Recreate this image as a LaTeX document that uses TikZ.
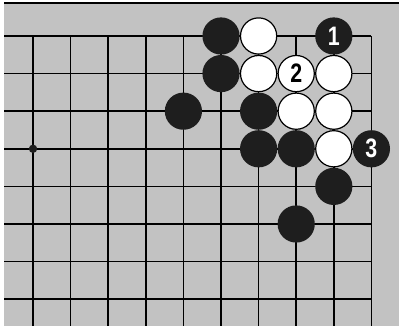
\documentclass[tikz,border=0pt]{standalone}
\usepackage{fontspec}
\setmainfont{Liberation Sans}
\usetikzlibrary{positioning}
\definecolor{boardgray}{RGB}{194,194,194}
\definecolor{stoneblack}{RGB}{30,30,30}
\newcommand{\movenum}[1]{\scalebox{0.8}[1]{#1}}

\begin{document}
\begin{tikzpicture}[x=9.4mm,y=-9.4mm,
  gridline/.style={line width=0.4mm,black},
  blackstone/.style={circle,fill=stoneblack,inner sep=0pt,minimum size=9.3mm,text=white,font=\bfseries\fontsize{19}{19}\selectfont},
  whitestone/.style={circle,draw=black,line width=0.3mm,fill=white,inner sep=0pt,minimum size=9.05mm,text=black,font=\bfseries\fontsize{19}{19}\selectfont},
  hoshi/.style={circle,fill=stoneblack,inner sep=0pt,minimum size=2.1mm}]
\useasboundingbox (-0.878,-0.957) rectangle (9.734,7.713);
\fill[white] (-0.878,-0.957) rectangle (9.734,7.713);
\fill[boardgray] (-0.771,-0.878) rectangle (9.734,7.713);
\draw[line width=0.45mm] (-0.771,-0.885) -- (9.734,-0.885);
\foreach \r in {0,...,7}
  \draw[gridline] (-0.771,\r) -- (9,\r);
\foreach \c in {0,...,9}
  \draw[gridline] (\c,0) -- (\c,7.713);
\node[hoshi] (star) at (0,3) {};
\foreach \c/\r/\n in {5/0/ba,5/1/bb,4/2/bc,6/2/bd,6/3/be,7/3/bf,8/4/bg,7/5/bh}
  \node[blackstone] (\n) at (\c,\r) {};
\foreach \c/\r/\n in {6/0/wa,6/1/wb,8/1/wc,7/2/wd,8/2/we,8/3/wf}
  \node[whitestone] (\n) at (\c,\r) {};
\node[blackstone] (move1) at (8,0) {\movenum{1}};
\node[whitestone] (move2) at (7,1) {\movenum{2}};
\node[blackstone] (move3) at (9,3) {\movenum{3}};
\end{tikzpicture}
\end{document}
